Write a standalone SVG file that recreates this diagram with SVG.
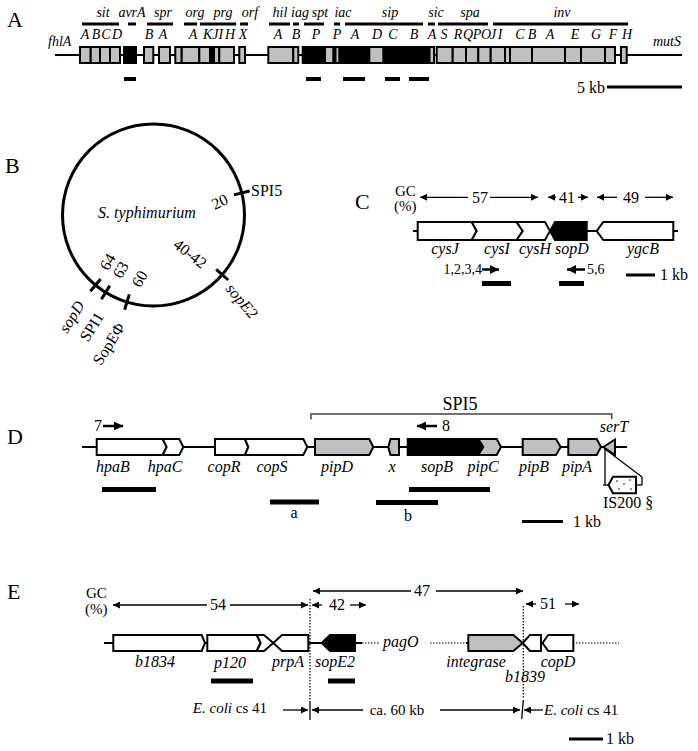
<svg xmlns="http://www.w3.org/2000/svg" width="698" height="751" viewBox="0 0 698 751">
<style>
text{font-family:"Liberation Serif","Times New Roman",serif;fill:#000}
.i{font-style:italic}
.a14{font-size:14px}
.f16{font-size:16px}
.f15{font-size:15px}
.big{font-size:22px}
.m{text-anchor:middle}
.e{text-anchor:end}
.bx{stroke:#000;stroke-width:2;stroke-linejoin:miter}
.w{fill:#fff}.g{fill:#c0c0c0}.k{fill:#000}
.ln{stroke:#000;stroke-width:2;fill:none}
.thin{stroke:#000;stroke-width:1.3;fill:none}
.dot{stroke:#000;stroke-width:1.2;stroke-dasharray:1.5 1.5;fill:none}
.bar{stroke:#000;stroke-width:4;fill:none}
.bar5{stroke:#000;stroke-width:5;fill:none}
.tick{stroke:#000;stroke-width:3;fill:none}
.pr{stroke:#000;stroke-width:2.5;fill:none}
</style>
<defs>
<marker id="ah" viewBox="0 0 10 10" refX="10" refY="5" markerWidth="9" markerHeight="7" markerUnits="userSpaceOnUse" orient="auto-start-reverse"><path d="M0,0 L10,5 L0,10 z" fill="#000"/></marker>
<marker id="ahp" viewBox="0 0 10 10" refX="10" refY="5" markerWidth="10" markerHeight="9" markerUnits="userSpaceOnUse" orient="auto"><path d="M0,0 L10,5 L0,10 z" fill="#000"/></marker>
</defs>

<!-- Panel A -->
<g id="panelA">
<text class="big" x="7" y="27">A</text>
<g class="i a14 m">
<text x="103" y="17">sit</text><text x="132" y="17">avrA</text><text x="163" y="17">spr</text><text x="195" y="17">org</text><text x="223" y="17">prg</text><text x="250" y="17">orf</text><text x="280" y="17">hil</text><text x="300" y="17">iag</text><text x="320" y="17">spt</text><text x="343" y="17">iac</text><text x="390" y="17">sip</text><text x="436" y="17">sic</text><text x="470" y="17">spa</text><text x="562" y="17">inv</text>
</g>
<g stroke="#000" stroke-width="3">
<line x1="82" y1="24" x2="119" y2="24"/><line x1="128" y1="24" x2="136" y2="24"/><line x1="147" y1="24" x2="173" y2="24"/><line x1="184" y1="24" x2="197" y2="24"/><line x1="200" y1="24" x2="236" y2="24"/><line x1="240" y1="24" x2="248" y2="24"/><line x1="269" y1="24" x2="290" y2="24"/><line x1="293" y1="24" x2="299" y2="24"/><line x1="304" y1="24" x2="324" y2="24"/><line x1="334" y1="24" x2="340" y2="24"/><line x1="345" y1="24" x2="423" y2="24"/><line x1="428" y1="24" x2="435" y2="24"/><line x1="438" y1="24" x2="488" y2="24"/><line x1="493" y1="24" x2="628" y2="24"/>
</g>
<g class="i a14 m">
<text x="85" y="39">A</text><text x="96" y="39">B</text><text x="106" y="39">C</text><text x="117" y="39">D</text><text x="149" y="39">B</text><text x="163" y="39">A</text><text x="193" y="39">A</text><text x="213" y="39">KJI</text><text x="230" y="39">H</text><text x="243" y="39">X</text><text x="278" y="39">A</text><text x="296" y="39">B</text><text x="316" y="39">P</text><text x="337" y="39">P</text><text x="355" y="39">A</text><text x="377" y="39">D</text><text x="393" y="39">C</text><text x="414" y="39">B</text><text x="432" y="39">A</text><text x="444" y="39">S</text><text x="458" y="39">R</text><text x="468" y="39">Q</text><text x="477" y="39">P</text><text x="486" y="39">O</text><text x="493" y="39">J</text><text x="500" y="39">I</text><text x="520" y="39">C</text><text x="532" y="39">B</text><text x="550" y="39">A</text><text x="575" y="39">E</text><text x="596" y="39">G</text><text x="613" y="39">F</text><text x="627" y="39">H</text>
</g>
<text class="i a14" x="48" y="46">fhlA</text>
<text class="i a14" x="653" y="46">mutS</text>
<line class="ln" x1="55" y1="55" x2="682" y2="55"/>
<g class="bx g">
<rect x="80" y="47" width="10.7" height="16"/><rect x="90.7" y="47" width="9.3" height="16"/><rect x="100" y="47" width="10" height="16"/><rect x="110" y="47" width="10" height="16"/>
<rect x="144" y="47" width="9.3" height="16"/><rect x="159" y="47" width="11" height="16"/>
<rect x="175.3" y="47" width="6.4" height="16"/><rect x="181.7" y="47" width="17.6" height="16"/><rect x="199.3" y="47" width="10.7" height="16"/><rect x="210" y="47" width="2" height="16"/><rect x="212" y="47" width="2" height="16"/><rect x="214" y="47" width="5.3" height="16"/><rect x="219.3" y="47" width="14.7" height="16"/>
<rect x="239.3" y="47" width="5.7" height="16"/>
<rect x="268.3" y="47" width="25" height="16"/><rect x="293.3" y="47" width="5" height="16"/>
<rect x="429.3" y="47" width="4.7" height="16"/>
<rect x="436.7" y="47" width="16" height="16"/><rect x="452.7" y="47" width="13.3" height="16"/><rect x="466" y="47" width="12.3" height="16"/><rect x="478.3" y="47" width="12.4" height="16"/><rect x="490.7" y="47" width="14.3" height="16"/><rect x="505" y="47" width="5" height="16"/><rect x="510" y="47" width="22" height="16"/><rect x="532" y="47" width="33" height="16"/><rect x="565" y="47" width="16" height="16"/><rect x="581" y="47" width="24" height="16"/><rect x="605" y="47" width="10" height="16"/>
<rect x="621" y="47" width="5.7" height="16"/>
</g>
<g class="bx k">
<rect x="124" y="47" width="12" height="16"/><rect x="302.7" y="47" width="80.6" height="16"/><rect x="383.3" y="47" width="46" height="16"/>
</g>
<g class="bx g">
<rect x="325" y="47" width="8.3" height="16"/><rect x="369.3" y="47" width="14" height="16"/>
</g>
<rect x="336.5" y="48" width="1.8" height="14" fill="#c0c0c0"/>
<g class="bar">
<line x1="124" y1="79" x2="136" y2="79"/><line x1="306" y1="79" x2="321" y2="79"/><line x1="343" y1="79" x2="365" y2="79"/><line x1="385" y1="79" x2="400" y2="79"/><line x1="409" y1="79" x2="429" y2="79"/>
</g>
<line x1="607" y1="87" x2="682" y2="87" stroke="#000" stroke-width="3"/>
<text class="f16" x="577" y="93">5 kb</text>
</g>

<!-- Panel B -->
<g id="panelB">
<text class="big" x="5" y="173">B</text>
<circle cx="153.5" cy="215" r="91" fill="none" stroke="#000" stroke-width="3"/>
<text class="i f16 m" x="147" y="218">S. typhimurium</text>
<g class="tick">
<line x1="234" y1="194.9" x2="249.6" y2="191"/>
<line x1="216.2" y1="269.4" x2="228.2" y2="280"/>
<line x1="100.6" y1="279" x2="90.4" y2="291.3"/>
<line x1="109.8" y1="285.6" x2="101.4" y2="299.2"/>
<line x1="129.3" y1="294.4" x2="124.6" y2="309.7"/>
</g>
<text class="f16" x="251" y="196">SPI5</text>
<text class="f16 m" transform="translate(220,202) rotate(-25)" y="5">20</text>
<text class="f16 m" transform="translate(190,254) rotate(38)" y="5">40-42</text>
<text class="i f16" transform="translate(225,289) rotate(50)">sopE2</text>
<text class="f16 m" transform="translate(108,262) rotate(-60)" y="5">64</text>
<text class="f16 m" transform="translate(121,270) rotate(-60)" y="5">63</text>
<text class="f16 m" transform="translate(140,279) rotate(-60)" y="5">60</text>
<text class="i f16 m" transform="translate(72,317) rotate(-58)" y="5">sopD</text>
<text class="f16 m" transform="translate(92,327) rotate(-58)" y="5">SPI1</text>
<text class="f16 m" transform="translate(109,344) rotate(-58)" y="5">SopEΦ</text>
</g>

<!-- Panel C -->
<g id="panelC">
<text class="big" x="355" y="209">C</text>
<text class="f15" x="395" y="196">GC</text>
<text class="f15" x="394" y="211">(%)</text>
<g class="thin">
<line x1="468" y1="197.3" x2="420" y2="197.3" marker-end="url(#ah)"/>
<line x1="490" y1="197.3" x2="538" y2="197.3" marker-end="url(#ah)"/>
<line x1="556" y1="197.3" x2="548" y2="197.3" marker-end="url(#ah)"/>
<line x1="578" y1="197.3" x2="588" y2="197.3" marker-end="url(#ah)"/>
<line x1="617" y1="197.3" x2="597" y2="197.3" marker-end="url(#ah)"/>
<line x1="645" y1="197.3" x2="673" y2="197.3" marker-end="url(#ah)"/>
</g>
<text class="f16 m" x="480" y="203">57</text>
<text class="f16 m" x="567" y="203">41</text>
<text class="f16 m" x="631" y="203">49</text>
<line class="ln" x1="413" y1="231" x2="678" y2="231"/>
<polygon id="cysJ" class="bx w" points="417.7,222 471.7,222 476.7,231 471.7,240 417.7,240"/>
<polygon id="cysI" class="bx w" points="471.7,222 516.7,222 522.7,231 516.7,240 471.7,240 476.7,231"/>
<polygon id="cysH" class="bx w" points="516.7,222 545,222 550,231 545,240 516.7,240 522.7,231"/>
<polygon id="sopD" class="bx k" points="550,231 555,222 586.7,222 586.7,240 555,240"/>
<polygon id="ygcB" class="bx w" points="596.7,231 603.3,222 673.3,222 673.3,240 603.3,240"/>
<g class="i f16 m">
<text x="445" y="254">cysJ</text><text x="497" y="254">cysI</text><text x="535" y="254">cysH</text><text x="572" y="254">sopD</text><text x="643" y="254">ygcB</text>
</g>
<text class="a14 e" x="482" y="274">1,2,3,4</text>
<line class="pr" x1="482" y1="269.5" x2="499" y2="269.5" marker-end="url(#ahp)"/>
<line class="pr" x1="585" y1="269.5" x2="567" y2="269.5" marker-end="url(#ahp)"/>
<text class="a14" x="587" y="274">5,6</text>
<g class="bar5"><line x1="482" y1="283.5" x2="511" y2="283.5"/><line x1="559" y1="283.5" x2="584" y2="283.5"/></g>
<line x1="626" y1="275" x2="655" y2="275" stroke="#000" stroke-width="3"/>
<text class="f16" x="660" y="280">1 kb</text>
</g>

<!-- Panel D -->
<g id="panelD">
<text class="big" x="7" y="444">D</text>
<text class="f16" x="94" y="431">7</text>
<line class="pr" x1="103" y1="426" x2="123" y2="426" marker-end="url(#ahp)"/>
<polyline points="311,419.5 311,414 611.7,414 611.7,419" fill="none" stroke="#444" stroke-width="1.5"/>
<text class="m" font-size="18" x="460" y="410">SPI5</text>
<line class="pr" x1="437" y1="426" x2="417" y2="426" marker-end="url(#ahp)"/>
<text class="f16" x="442" y="431">8</text>
<text class="i f16 m" x="614" y="432">serT</text>
<line class="ln" x1="82" y1="447" x2="627" y2="447"/>
<polygon id="hpaB" class="bx w" points="96.7,439 162.7,439 166.7,447 162.7,455 96.7,455"/>
<polygon id="hpaC" class="bx w" points="162.7,439 179.3,439 183.3,447 179.3,455 162.7,455 166.7,447"/>
<polygon id="copR" class="bx w" points="215,439 245,439 248.3,447 245,455 215,455"/>
<polygon id="copS" class="bx w" points="245,439 303.3,439 307.3,447 303.3,455 245,455 248.3,447"/>
<polygon id="pipD" class="bx g" points="315,439 369.3,439 373.3,447 369.3,455 315,455"/>
<polygon id="x" class="bx g" points="388.3,447 390.5,439 399,439 399,455 390.5,455"/>
<polygon id="sopB" class="bx k" points="407.7,439 478.3,439 483.3,447 478.3,455 407.7,455"/>
<polygon id="pipC" class="bx g" points="478.3,439 496.7,439 501,447 496.7,455 478.3,455 483.3,447"/>
<polygon id="pipB" class="bx g" points="522.7,439 556,439 560.7,447 556,455 522.7,455"/>
<polygon id="pipA" class="bx g" points="568.3,439 596.7,439 601,447 596.7,455 568.3,455"/>
<polygon id="serT" class="bx g" points="603.3,447 615,439.5 615,455"/>
<g class="thin">
<line x1="605" y1="449" x2="605" y2="485"/>
<line x1="605" y1="449" x2="642" y2="477"/>
<line x1="642" y1="477" x2="642" y2="485"/>
<line x1="603" y1="485" x2="609" y2="485"/>
<line x1="636" y1="485" x2="642" y2="485"/>
</g>
<polygon id="IS200" class="bx w" points="608.5,485 613,476.7 636,476.7 636,493.3 613,493.3"/>
<g fill="#000"><circle cx="617" cy="481" r="0.8"/><circle cx="624" cy="484" r="0.8"/><circle cx="630" cy="480" r="0.8"/><circle cx="619" cy="489" r="0.8"/><circle cx="631" cy="489" r="0.8"/></g>
<text class="f16" x="603" y="508">IS200 §</text>
<g class="i f16 m">
<text x="113" y="472">hpaB</text><text x="165" y="472">hpaC</text><text x="224" y="472">copR</text><text x="272" y="472">copS</text><text x="337" y="472">pipD</text><text x="392" y="472">x</text><text x="437" y="472">sopB</text><text x="483" y="472">pipC</text><text x="534" y="472">pipB</text><text x="577" y="472">pipA</text>
</g>
<g class="bar5">
<line x1="102" y1="489.5" x2="156" y2="489.5"/>
<line x1="409" y1="489.5" x2="490" y2="489.5"/>
<line x1="270" y1="502" x2="319" y2="502"/>
<line x1="376" y1="502.5" x2="438" y2="502.5"/>
</g>
<text class="f16 m" x="294" y="518">a</text>
<text class="f16 m" x="408" y="521">b</text>
<line x1="522" y1="521.5" x2="563" y2="521.5" stroke="#000" stroke-width="3"/>
<text class="f16" x="573" y="527">1 kb</text>
</g>

<!-- Panel E -->
<g id="panelE">
<text class="big" x="7" y="599">E</text>
<text class="f15" x="86" y="598">GC</text>
<text class="f15" x="85" y="614">(%)</text>
<g class="thin">
<line x1="207" y1="605" x2="113" y2="605" marker-end="url(#ah)"/>
<line x1="230" y1="605" x2="308" y2="605" marker-end="url(#ah)"/>
<line x1="322" y1="605" x2="312" y2="605" marker-end="url(#ah)"/>
<line x1="350" y1="605" x2="366" y2="605" marker-end="url(#ah)"/>
<line x1="411" y1="591" x2="313" y2="591" marker-end="url(#ah)"/>
<line x1="436" y1="591" x2="523" y2="591" marker-end="url(#ah)"/>
<line x1="536" y1="604" x2="526" y2="604" marker-end="url(#ah)"/>
<line x1="565" y1="604" x2="579" y2="604" marker-end="url(#ah)"/>
</g>
<text class="f16 m" x="218" y="610">54</text>
<text class="f16 m" x="337" y="610">42</text>
<text class="f16 m" x="422" y="596">47</text>
<text class="f16 m" x="548" y="609">51</text>
<line class="dot" x1="310" y1="599" x2="310" y2="701"/>
<line class="dot" x1="523.3" y1="606" x2="523.3" y2="699"/>
<line x1="310" y1="701" x2="310" y2="720" stroke="#000" stroke-width="1.3"/>
<line x1="523.3" y1="700" x2="521.7" y2="719" stroke="#000" stroke-width="1.3"/>
<line class="ln" x1="104" y1="643" x2="362" y2="643"/>
<line class="dot" x1="362" y1="643" x2="380" y2="643"/>
<text class="i f16" x="383" y="647">pagO</text>
<line class="dot" x1="430" y1="643" x2="466" y2="643"/>
<line class="ln" x1="466" y1="643" x2="469" y2="643"/>
<line class="dot" x1="573" y1="643" x2="619" y2="643"/>
<polygon id="b1834" class="bx w" points="113.3,635 201.7,635 205,643 201.7,651 113.3,651"/>
<polygon id="p120" class="bx w" points="207.3,635 256.7,635 260.7,643 256.7,651 207.3,651"/>
<polygon id="orfE" class="bx w" points="256.7,635 264,635 273.3,643 264,651 256.7,651 260.7,643"/>
<polygon id="prpA" class="bx w" points="273.3,643 282,635 308.3,635 308.3,651 282,651"/>
<polygon id="sopE2" class="bx k" points="321.7,643 330,635 355,635 355,651 330,651"/>
<polygon id="integrase" class="bx g" points="468.3,635 513.3,635 522.7,643 513.3,651 468.3,651"/>
<polygon id="b1839" class="bx w" points="522.7,643 530,635 541,635 541,651 530,651"/>
<polygon id="copD" class="bx w" points="542.5,643 548.3,635 573.3,635 573.3,651 548.3,651"/>
<g class="i f16 m">
<text x="155" y="667">b1834</text><text x="230" y="668">p120</text><text x="288" y="667">prpA</text><text x="335" y="667">sopE2</text><text x="476" y="667">integrase</text><text x="525" y="682">b1839</text><text x="558" y="667">copD</text>
</g>
<g class="bar5">
<line x1="211" y1="681" x2="253" y2="681"/>
<line x1="328" y1="681" x2="355" y2="681"/>
</g>
<text class="f15 e" x="267" y="713"><tspan class="i">E. coli</tspan> cs 41</text>
<g class="thin">
<line x1="283" y1="710" x2="308" y2="710" marker-end="url(#ah)"/>
<line x1="363" y1="710" x2="312" y2="710" marker-end="url(#ah)"/>
<line x1="440" y1="710" x2="520" y2="710" marker-end="url(#ah)"/>
<line x1="543" y1="710" x2="524" y2="710" marker-end="url(#ah)"/>
</g>
<text class="f15 m" x="397" y="715">ca. 60 kb</text>
<text class="f15" x="544" y="715"><tspan class="i">E. coli</tspan> cs 41</text>
<line x1="569" y1="739" x2="603" y2="739" stroke="#000" stroke-width="3"/>
<text class="f16" x="606" y="744">1 kb</text>
</g>
</svg>
